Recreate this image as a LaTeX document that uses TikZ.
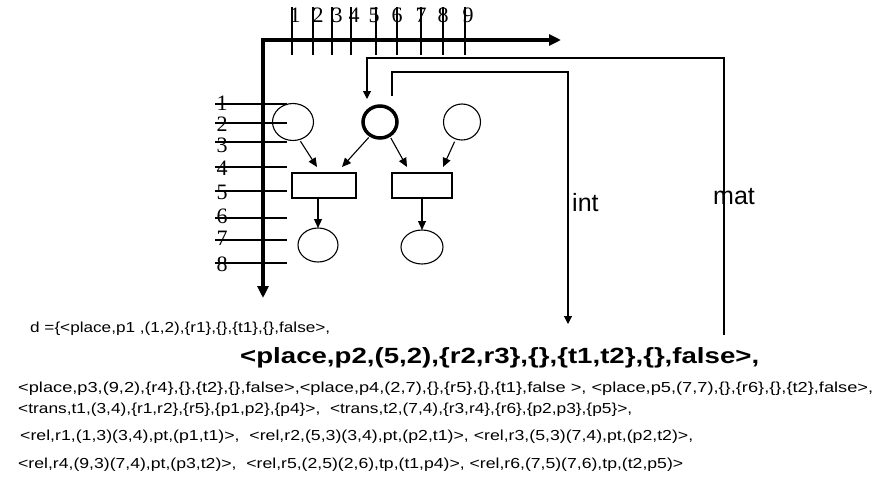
\documentclass[tikz,border=0pt]{standalone}
\usepackage{fontspec}
\setmainfont{Liberation Sans}
\newfontfamily\serifdig{Liberation Serif}
\usetikzlibrary{shapes.geometric,arrows.meta}
\newcommand{\fitto}[2]{\resizebox{#1pt}{\height}{#2}}
\begin{document}
\begin{tikzpicture}[x=1pt,y=-1pt,
  thinline/.style={line width=1.1pt},
  axisline/.style={line width=3.5pt,{Triangle[length=12pt,width=11pt]}-{Triangle[length=12pt,width=11pt]}},
  arr/.style={line width=1.1pt,-{Triangle[length=9pt,width=8pt]}},
  conn/.style={line width=1.1pt},
  place/.style={ellipse,draw,line width=1.1pt,inner sep=0pt,outer sep=0pt},
  trans/.style={rectangle,draw,line width=1.1pt,inner sep=0pt,outer sep=0pt,minimum height=25pt},
  dig/.style={font=\serifdig\fontsize{22}{22}\selectfont,inner sep=0pt},
  txt/.style={anchor=base west,inner sep=0pt},
  lbl/.style={anchor=west,inner sep=0pt,font=\fontsize{25}{25}\selectfont}]
\useasboundingbox (0,0) rectangle (879,498);

% ticks and labels, top
\foreach \x/\lx/\n in {292/295/1,313/318/2,332/337/3,351/354/4,376/374/5,397/397/6,421/421/7,443/443/8,465/468/9}{
  \draw[thinline] (\x,7) -- (\x,55);
  \node[dig] (tx\n) at (\lx,15) {\n};
}
% ticks and labels, left
\foreach \y/\ly/\n in {104/103.5/1,123/124/2,142/145.5/3,167/168/4,191/192/5,218/216/6,240/238/7,263/264/8}{
  \draw[thinline] (215,\y) -- (287,\y);
  \node[dig] (ty\n) at (222,\ly) {\n};
}
% axes
\coordinate (O) at (263,40);
\coordinate (xend) at (561,40);
\coordinate (yend) at (263,298);
\draw[axisline] (xend) -- (O) -- (yend);

% places and transitions
\node[place,minimum width=41pt,minimum height=37pt] (p1) at (293,122) {};
\node[place,line width=3.5pt,minimum width=34pt,minimum height=32pt] (p2) at (380,122) {};
\node[place,minimum width=37pt,minimum height=36pt] (p3) at (462,122) {};
\node[trans,minimum width=64pt] (t1) at (324,185.5) {};
\node[trans,minimum width=60pt] (t2) at (422,185.5) {};
\node[place,minimum width=40pt,minimum height=34pt] (p4) at (318,245) {};
\node[place,minimum width=42pt,minimum height=34pt] (p5) at (422,247) {};

\draw[arr,shorten <=2pt] (p1.290) -- ([xshift=-7pt,yshift=6pt]t1.north);
\draw[arr,shorten <=3pt] (p2.235) -- ([xshift=18pt,yshift=6pt]t1.north);
\draw[arr,shorten <=3pt] (p2.305) -- ([xshift=-15pt,yshift=6pt]t2.north);
\draw[arr,shorten <=3pt] (p3.250) -- ([xshift=21pt,yshift=6pt]t2.north);
\draw[arr] (t1.south -| p4) -- (p4.north);
\draw[arr] (t2.south -| p5) -- (p5.north);

% top connectors
\coordinate (pin) at ([xshift=-13pt,yshift=7pt]p2.north);
\coordinate (pout) at ([xshift=12pt,yshift=10pt]p2.north);
\coordinate (matend) at (724,335);
\coordinate (intend) at (568,324);
\draw[arr,-{Triangle[length=8pt,width=8pt]}] (matend) -- ++(0,-277) -| (pin);
\draw[arr,-{Triangle[length=8pt,width=8pt]}] (pout) -- ++(0,-24) -| (intend);
\node[lbl] (int) at (572,203) {int};
\node[lbl] (mat) at (713,197) {mat};

% text
\node[txt] (l1) at (30,332) {\fitto{300}{\fontsize{14.5}{16}\selectfont d =\{<place,p1 ,(1,2),\{r1\},\{\},\{t1\},\{\},false>,}};
\node[txt] (l2) at (240,363) {\fitto{519}{\fontsize{22}{24}\selectfont\bfseries <place,p2,(5,2),\{r2,r3\},\{\},\{t1,t2\},\{\},false>,}};
\node[txt] (l3) at (18,392) {\fitto{855}{\fontsize{14.5}{16}\selectfont <place,p3,(9,2),\{r4\},\{\},\{t2\},\{\},false>,<place,p4,(2,7),\{\},\{r5\},\{\},\{t1\},false >, <place,p5,(7,7),\{\},\{r6\},\{\},\{t2\},false>,}};
\node[txt] (l4) at (18,413) {\fitto{614}{\fontsize{14.5}{16}\selectfont <trans,t1,(3,4),\{r1,r2\},\{r5\},\{p1,p2\},\{p4\}>,\ \ <trans,t2,(7,4),\{r3,r4\},\{r6\},\{p2,p3\},\{p5\}>,}};
\node[txt] (l5) at (20,440) {\fitto{673}{\fontsize{14.5}{16}\selectfont <rel,r1,(1,3)(3,4),pt,(p1,t1)>,\ \ <rel,r2,(5,3)(3,4),pt,(p2,t1)>, <rel,r3,(5,3)(7,4),pt,(p2,t2)>,}};
\node[txt] (l6) at (18,468) {\fitto{665}{\fontsize{14.5}{16}\selectfont <rel,r4,(9,3)(7,4),pt,(p3,t2)>,\ \ <rel,r5,(2,5)(2,6),tp,(t1,p4)>, <rel,r6,(7,5)(7,6),tp,(t2,p5)>}};
\end{tikzpicture}
\end{document}
